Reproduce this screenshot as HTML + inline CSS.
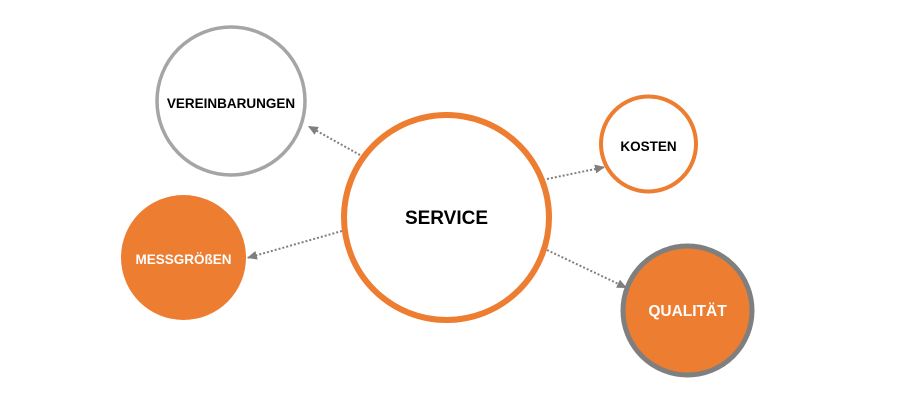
<!DOCTYPE html>
<html>
<head>
<meta charset="utf-8">
<style>
  html, body { margin: 0; padding: 0; background: #ffffff; }
  body { width: 900px; height: 417px; overflow: hidden; }
  svg { display: block; }
  text { font-family: "Liberation Sans", Arial, sans-serif; font-weight: bold; }
</style>
</head>
<body>
<svg width="900" height="417" viewBox="0 0 900 417" xmlns="http://www.w3.org/2000/svg">
  <defs>
    <marker id="ah" markerUnits="userSpaceOnUse" markerWidth="11" markerHeight="10" refX="10" refY="4.5" orient="auto">
      <path d="M0,0 L10,4.5 L0,9 z" fill="#7f7f7f"/>
    </marker>
  </defs>

  <!-- connectors -->
  <g stroke="#808080" stroke-width="2" stroke-dasharray="2 2" fill="none">
    <line x1="360" y1="155" x2="308" y2="126" marker-end="url(#ah)"/>
    <line x1="547" y1="179" x2="605" y2="167" marker-end="url(#ah)"/>
    <line x1="547" y1="250" x2="627" y2="288" marker-end="url(#ah)"/>
    <line x1="342" y1="231" x2="247" y2="258" marker-end="url(#ah)"/>
  </g>

  <!-- Vereinbarungen -->
  <circle cx="231" cy="101" r="74" fill="#ffffff" stroke="#a5a5a5" stroke-width="3.5"/>
  <text x="231" y="108" font-size="13.5" text-anchor="middle" fill="#000">VEREINBARUNGEN</text>

  <!-- Kosten -->
  <circle cx="648.5" cy="144" r="47.5" fill="#ffffff" stroke="#ed7d31" stroke-width="4"/>
  <text x="648.5" y="151" font-size="13.5" text-anchor="middle" fill="#000">KOSTEN</text>

  <!-- Messgrößen -->
  <circle cx="183.5" cy="257.5" r="62.5" fill="#ed7d31"/>
  <text x="183.5" y="264" font-size="13.5" text-anchor="middle" fill="#ffffff">MESSGRÖßEN</text>

  <!-- Qualität -->
  <circle cx="687.5" cy="310.5" r="64.5" fill="#ed7d31" stroke="#7f7f7f" stroke-width="5"/>
  <text x="687.5" y="316" font-size="15.5" text-anchor="middle" fill="#ffffff">QUALITÄT</text>

  <!-- Service -->
  <circle cx="446.5" cy="217.5" r="102.5" fill="#ffffff" stroke="#ed7d31" stroke-width="6"/>
  <text x="446.5" y="224" font-size="19" text-anchor="middle" fill="#000">SERVICE</text>
</svg>
</body>
</html>
